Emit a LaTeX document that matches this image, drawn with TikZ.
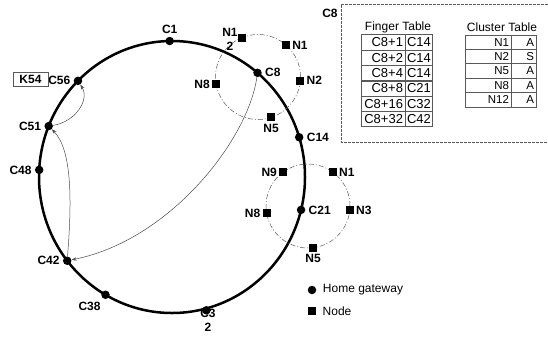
\documentclass[tikz,border=0pt]{standalone}
\usepackage{fontspec}
\setmainfont{Liberation Sans}
\usetikzlibrary{arrows.meta,calc}

\begin{document}
\begin{tikzpicture}[x=1pt, y=-1pt,
  gw/.style={circle, fill=black, inner sep=0pt, minimum size=8.5pt},
  nd/.style={rectangle, fill=black, inner sep=0pt, minimum size=8pt},
  lbl/.style={font=\fontsize{12}{14}\selectfont\bfseries, inner sep=2pt},
  ring/.style={line width=2.5pt},
  cluster/.style={gray!70!black, line width=0.5pt, dash pattern=on 5pt off 2pt on 1pt off 2pt},
  link/.style={-{Stealth[length=5pt, width=3.5pt]}, gray!60!black, line width=0.5pt},
  cell/.style={rectangle, draw=gray!70!black, line width=0.7pt, inner sep=2pt},
  txt/.style={font=\fontsize{12}{14}\selectfont},
  label distance=1pt
]
\useasboundingbox (0,0) rectangle (548,338);

% Chord ring of home gateways
\coordinate (O) at (172,177);
\draw[ring] (O) ellipse[x radius=133pt, y radius=136pt];
\foreach \a/\nm/\pos in {91/C1/above, 50/C8/right, 17/C14/right, -14/C21/right,
    -120/C38/240, -142/C42/left, 177/C48/left, 158/C51/left, 135/C56/left}
  \node[gw, label={[lbl]\pos:\nm}] (\nm) at ($(O)+({133*cos(\a)},{-136*sin(\a)})$) {};
\node[lbl, align=center] (C32l) at (208,320) {C3\\2};
\node[gw] (C32) at ($(O)+({133*cos(-75)},{-138*sin(-75)})$) {};

% key stored at C56
\node[lbl, draw=gray!70!black, line width=0.5pt, minimum width=35pt, minimum height=14pt] (K54) at (30.5,79) {K54};

% Cluster around C8
\coordinate (CA) at (258,77);
\draw[cluster] (CA) circle[radius=42.5pt];
\foreach \a/\nm in {112/a12, 49/a1, -5/a2, -72/a5, 190/a8}
  \node[nd] (\nm) at ($(CA)+({42.5*cos(\a)},{-42.5*sin(\a)})$) {};
\node[lbl, align=center, inner sep=0pt] at (230,39) {N1\\2};
\node[lbl, anchor=west] at (a1.east) {N1};
\node[lbl, anchor=west] at (a2.east) {N2};
\node[lbl, anchor=north] at (a5.south) {N5};
\node[lbl, anchor=east] at (a8.west) {N8};

% Cluster around C21
\coordinate (CB) at (308,206);
\draw[cluster] (CB) circle[radius=42pt];
\foreach \a/\nm in {126/b9, 54/b1, -6/b3, -83/b5, 190/b8}
  \node[nd] (\nm) at ($(CB)+({42*cos(\a)},{-42*sin(\a)})$) {};
\node[lbl, anchor=east] at (b9.west) {N9};
\node[lbl, anchor=west] at (b1.east) {N1};
\node[lbl, anchor=west] at (b3.east) {N3};
\node[lbl, anchor=north] at (b5.south) {N5};
\node[lbl, anchor=east] at (b8.west) {N8};

% lookups
\draw[link] (C51) .. controls (75,122) and (90,100) .. (C56);
\draw[link] (C42) .. controls (72,200) and (72,150) .. (C51);
\draw[link] (C8) .. controls (248,140) and (170,240) .. (C42);

% tables kept by C8
\draw[gray!70!black, line width=0.6pt, dash pattern=on 3pt off 1pt] (548,4) -- (341,4) -- (341,142) -- (548,142);
\node[lbl] (C8t) at (330,13) {C8};
\node[txt] (fth) at (398,27) {Finger Table};
\foreach \k/\v [count=\i from 0] in {C8+1/C14, C8+2/C14, C8+4/C14, C8+8/C21, C8+16/C32, C8+32/C42} {
  \node[cell, font=\fontsize{13}{14}\selectfont, text width=40pt, align=right, minimum height=15.5pt] (fk\i) at (383, {42.5+15.3*\i}) {\k};
  \node[cell, font=\fontsize{13}{14}\selectfont, text width=23pt, align=left, minimum height=15.5pt] (fv\i) at (418.5, {42.5+15.3*\i}) {\v};
}
\node[txt] (cth) at (502,27) {Cluster Table};
\foreach \n/\s [count=\i from 0] in {N1/A, N2/S, N5/A, N8/A, N12/A} {
  \node[cell, font=\fontsize{11.5}{12}\selectfont, text width=42pt, align=right, minimum height=14.4pt] (cn\i) at (488, {42.2+14.4*\i}) {\n};
  \node[cell, font=\fontsize{11.5}{12}\selectfont, text width=21pt, align=right, minimum height=14.4pt] (cs\i) at (523.5, {42.2+14.4*\i}) {\s};
}

% legend
\node[gw] (lg1) at (312,290) {};
\node[txt, anchor=west] at ([xshift=3pt]lg1.east) {Home gateway};
\node[nd] (lg2) at (312,311) {};
\node[txt, anchor=west] at ([xshift=3pt]lg2.east) {Node};
\end{tikzpicture}
\end{document}
